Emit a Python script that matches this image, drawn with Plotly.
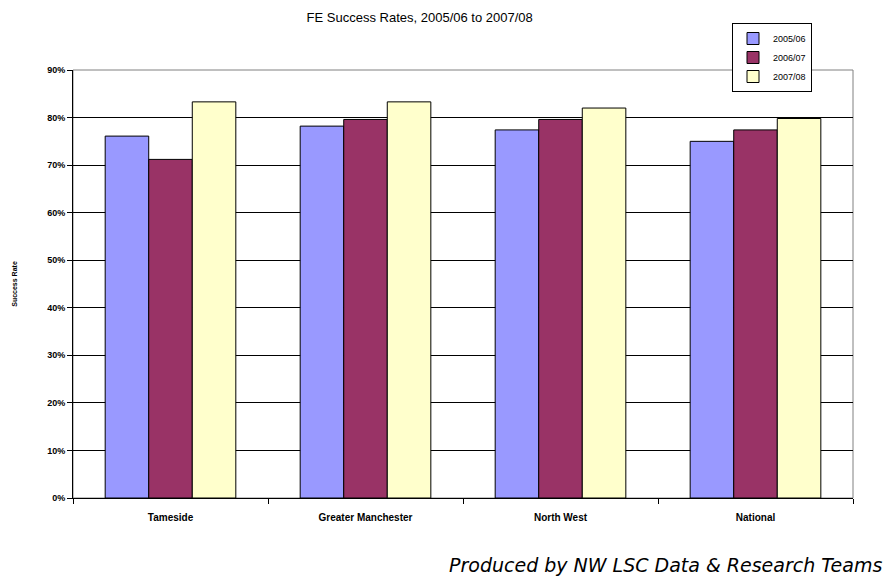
import plotly.graph_objects as go

categories = ["Tameside", "Greater Manchester", "North West", "National"]
series_names = ["2005/06", "2006/07", "2007/08"]
v_2005_06 = [0.761, 0.782, 0.774, 0.750]
v_2006_07 = [0.712, 0.796, 0.796, 0.774]
v_2007_08 = [0.833, 0.833, 0.820, 0.798]
colors = ["#9999FF", "#993366", "#FFFFCC"]
y_ticks = [0, 0.1, 0.2, 0.3, 0.4, 0.5, 0.6, 0.7, 0.8, 0.9]

fig = go.Figure()
for name, vals, col in zip(series_names, [v_2005_06, v_2006_07, v_2007_08], colors):
    fig.add_trace(go.Bar(
        x=categories, y=vals, name=name,
        marker=dict(color=col, line=dict(color="black", width=1)),
    ))

fig.update_layout(
    width=893, height=578,
    margin=dict(l=73, r=40, t=70, b=80, autoexpand=False),
    paper_bgcolor="white", plot_bgcolor="white",
    barmode="group", bargap=0.33, bargroupgap=0,
    font=dict(family="Arial, Liberation Sans, sans-serif", color="black"),
    title=dict(text="FE Success Rates, 2005/06 to 2007/08", x=0.47, xanchor="center",
               y=0.97, yanchor="middle", font=dict(size=13)),
    legend=dict(x=(732 - 73) / 780, y=(498 - 23) / 428, xanchor="left", yanchor="top",
                bordercolor="black", borderwidth=1, bgcolor="white",
                font=dict(size=9), tracegroupgap=0, itemwidth=30),
    showlegend=True,
)
fig.update_xaxes(
    type="category", showline=True, linecolor="black", linewidth=1,
    ticks="outside", tickson="boundaries", ticklen=5, tickcolor="black",
    tickfont=dict(size=10, weight="bold"), mirror=False, showgrid=False,
    automargin=False, ticklabelstandoff=10,
)
fig.update_yaxes(
    range=[0, 0.9], tickvals=y_ticks, tickformat=".0%",
    showline=True, linecolor="black", linewidth=1,
    ticks="outside", ticklen=5, tickcolor="black",
    showgrid=True, gridcolor="black", gridwidth=1,
    tickfont=dict(size=9, weight="bold"),
    title=dict(text="Success Rate", font=dict(size=7, weight="bold"), standoff=28),
    zeroline=False, automargin=False,
)
# plot area border (gray top/right)
fig.add_shape(type="rect", xref="paper", yref="paper", x0=0, x1=1, y0=0, y1=1,
              line=dict(color="#808080", width=1), layer="below")
fig.add_annotation(text="<i>Produced by NW LSC Data & Research Teams</i>",
                   xref="paper", yref="paper", x=(447 - 73) / 780, y=-(565 - 498) / 428,
                   xanchor="left", yanchor="middle", showarrow=False,
                   font=dict(size=19, family="DejaVu Sans, sans-serif"))

fig.write_html("out.html", config={"displayModeBar": False},
               post_script="document.body.style.margin='0';")
